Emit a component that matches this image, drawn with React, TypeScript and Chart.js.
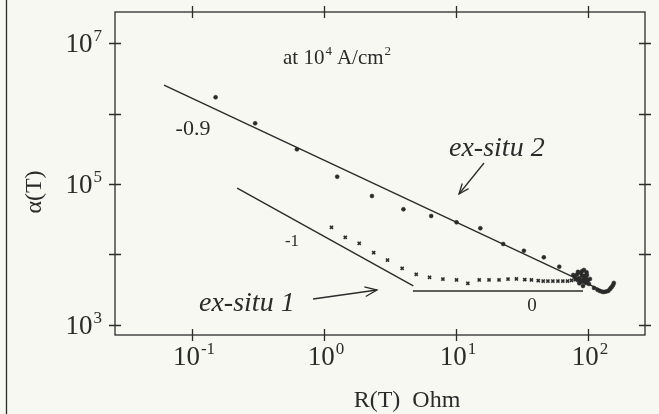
import { useEffect, useRef } from "react";
import { Chart, registerables } from "chart.js";

Chart.register(...registerables);

// Resistance R(T) in Ohm and coefficient α(T) for the two ex-situ samples
const exSitu2R = [
  0.151, 0.301, 0.624, 1.26, 2.31, 4.0, 6.49, 10.1, 15.3, 22.8, 32.7, 46.3, 60.6, 77.3,
  79.5, 81.1, 82.5, 84.0, 85.5, 87.0, 88.5, 90.1, 91.7, 92.5, 93.2, 94.0, 94.9, 95.8, 96.6, 97.5, 98.3, 100.0, 101.7, 103.5,
  88.0, 92.0, 96.0, 90.0, 86.0,
  111, 118, 123, 128, 132, 137, 142, 146, 149, 152, 155, 157,
];
const exSitu2Alpha = [
  1.7e6, 7.26e5, 3.1e5, 1.27e5, 6.76e4, 4.38e4, 3.52e4, 2.86e4, 2.36e4, 1.41e4, 1.13e4, 9.12e3, 6.71e3, 5.12e3,
  4.8e3, 4.5e3, 5.2e3, 5.67e3, 4.6e3, 4.08e3, 5.4e3, 4.97e3, 3.58e3, 4.4e3, 6.04e3, 5.0e3, 4.36e3, 4.7e3, 3.95e3, 5.6e3, 5.13e3, 4.3e3, 3.82e3, 4.5e3,
  4.3e3, 4.1e3, 4.6e3, 5.8e3, 3.9e3,
  3.36e3, 3.15e3, 3.04e3, 2.96e3, 2.94e3, 2.98e3, 3.04e3, 3.2e3, 3.36e3, 3.5e3, 3.7e3, 3.95e3,
];

const exSitu1R = [
  1.14, 1.45, 1.85, 2.38, 3.03, 3.91, 5.0, 6.31, 7.96, 10.1, 12.3, 15.0, 17.8, 21.2,
  24.8, 28.7, 33.2, 37.3, 42.0, 45.8, 49.7, 54.2, 59.2, 64.5, 70.0, 75.0, 80.0, 84.0,
];
const exSitu1Alpha = [
  2.43e4, 1.75e4, 1.44e4, 1.06e4, 8.35e3, 6.37e3, 5.24e3, 4.75e3, 4.49e3, 4.35e3, 3.9e3, 4.35e3, 4.35e3, 4.35e3,
  4.49e3, 4.5e3, 4.4e3, 4.35e3, 4.25e3, 4.2e3, 4.2e3, 4.2e3, 4.2e3, 4.2e3, 4.2e3, 4.3e3, 4.4e3, 4.3e3,
];

// Power-law guides: slopes -0.9, -1 and 0
const slope09R = [0.0614, 139.4];
const slope09Alpha = [2.53e6, 2.85e3];
const slope1R = [0.22, 4.75];
const slope1Alpha = [8.75e4, 3.58e3];
const slope0R = [4.72, 91.7];
const slope0Alpha = [3.04e3, 3.04e3];

// Axis decades
const xTickExponents = [-1, 0, 1, 2];
const yTickExponents = [3, 4, 5, 6, 7];
const yLabelExponents = [3, 5, 7];

const SERIF = '"Liberation Serif", "DejaVu Serif", serif';
const INK = "#2b2b2b";
const PAPER = "#f8f8f3";

const toPoints = (xs: number[], ys: number[]) => xs.map((x, i) => ({ x, y: ys[i] }));

function drawPower(
  ctx: CanvasRenderingContext2D,
  base: string,
  exp: string,
  x: number,
  y: number,
  align: "left" | "center" | "right",
  size: number,
  supSize: number
) {
  ctx.font = `${size}px ${SERIF}`;
  const wb = ctx.measureText(base).width;
  ctx.font = `${supSize}px ${SERIF}`;
  const we = ctx.measureText(exp).width;
  const total = wb + 1 + we;
  const left = align === "center" ? x - total / 2 : align === "right" ? x - total : x;
  ctx.textAlign = "left";
  ctx.textBaseline = "alphabetic";
  ctx.font = `${size}px ${SERIF}`;
  ctx.fillText(base, left, y);
  ctx.font = `${supSize}px ${SERIF}`;
  ctx.fillText(exp, left + wb + 1, y - size * 0.42);
  return left + total;
}

function arrow(ctx: CanvasRenderingContext2D, x0: number, y0: number, x1: number, y1: number, head: number) {
  const a = Math.atan2(y1 - y0, x1 - x0);
  ctx.beginPath();
  ctx.moveTo(x0, y0);
  ctx.lineTo(x1, y1);
  ctx.stroke();
  ctx.beginPath();
  ctx.moveTo(x1 - head * Math.cos(a - 0.38), y1 - head * Math.sin(a - 0.38));
  ctx.lineTo(x1, y1);
  ctx.lineTo(x1 - head * Math.cos(a + 0.38), y1 - head * Math.sin(a + 0.38));
  ctx.stroke();
}

const framePlugin = {
  id: "frame",
  beforeDraw(chart: any) {
    const { ctx, width, height } = chart;
    ctx.save();
    ctx.fillStyle = PAPER;
    ctx.fillRect(0, 0, width, height);
    ctx.restore();
  },
  afterDraw(chart: any) {
    const { ctx, chartArea, scales } = chart;
    const { left, right, top, bottom } = chartArea;
    const xs = scales.x;
    const ys = scales.y;
    ctx.save();
    ctx.strokeStyle = INK;
    ctx.fillStyle = INK;
    ctx.lineWidth = 1.3;

    // outer rule at the left margin
    ctx.beginPath();
    ctx.moveTo(6.5, 0);
    ctx.lineTo(6.5, chart.height);
    ctx.stroke();

    // plot box
    ctx.strokeRect(left, top, right - left, bottom - top);

    // crossing tick marks on all four sides
    const t = 6;
    ctx.beginPath();
    xTickExponents.forEach((e) => {
      const px = Math.round(xs.getPixelForValue(Math.pow(10, e))) + 0.5;
      ctx.moveTo(px, bottom - t);
      ctx.lineTo(px, bottom + t);
      ctx.moveTo(px, top - t);
      ctx.lineTo(px, top + t);
    });
    yTickExponents.forEach((e) => {
      const py = Math.round(ys.getPixelForValue(Math.pow(10, e))) + 0.5;
      ctx.moveTo(left - t, py);
      ctx.lineTo(left + t, py);
      ctx.moveTo(right - t, py);
      ctx.lineTo(right + t, py);
    });
    ctx.stroke();

    // tick labels
    xTickExponents.forEach((e) => {
      const px = xs.getPixelForValue(Math.pow(10, e));
      drawPower(ctx, "10", String(e), px + 2, bottom + 30, "center", 27, 17);
    });
    yLabelExponents.forEach((e) => {
      const py = ys.getPixelForValue(Math.pow(10, e));
      drawPower(ctx, "10", String(e), left - 13, py + 9, "right", 27, 17);
    });

    // axis titles
    ctx.font = `24px ${SERIF}`;
    ctx.textAlign = "center";
    ctx.textBaseline = "alphabetic";
    ctx.fillText("R(T)  Ohm", 407, 407);
    ctx.save();
    ctx.translate(41, 192);
    ctx.rotate(-Math.PI / 2);
    ctx.fillText("α(T)", 0, 0);
    ctx.restore();

    // current density note
    const endAt = drawPower(ctx, "at 10", "4", 283, 64, "left", 21, 13);
    drawPower(ctx, "A/cm", "2", endAt + 5, 64, "left", 21, 13);

    // slope labels
    ctx.textAlign = "center";
    ctx.font = `22px ${SERIF}`;
    ctx.fillText("-0.9", 193, 135);
    ctx.font = `17px ${SERIF}`;
    ctx.fillText("-1", 292, 246);
    ctx.font = `19px ${SERIF}`;
    ctx.fillText("0", 532, 311);

    // sample labels and arrows
    ctx.font = `italic 28px ${SERIF}`;
    ctx.textAlign = "left";
    ctx.fillText("ex-situ 2", 449, 156);
    ctx.fillText("ex-situ 1", 199, 311);
    ctx.lineWidth = 1.3;
    arrow(ctx, 484, 163, 459, 194, 11);
    arrow(ctx, 313, 299, 377, 290, 13);

    ctx.restore();
  },
};

export default function App() {
  const canvasRef = useRef<HTMLCanvasElement | null>(null);

  useEffect(() => {
    const canvas = canvasRef.current;
    if (!canvas) return;
    const guide = { showLine: true, pointRadius: 0, borderColor: INK, borderWidth: 1.4, fill: false };
    const chart = new Chart(canvas, {
      type: "scatter",
      data: {
        datasets: [
          { label: "slope -0.9", data: toPoints(slope09R, slope09Alpha), ...guide },
          { label: "slope -1", data: toPoints(slope1R, slope1Alpha), ...guide },
          { label: "slope 0", data: toPoints(slope0R, slope0Alpha), ...guide },
          {
            label: "ex-situ 2",
            data: toPoints(exSitu2R, exSitu2Alpha),
            pointStyle: "circle",
            pointRadius: 2,
            backgroundColor: INK,
            borderColor: INK,
            borderWidth: 0.5,
          },
          {
            label: "ex-situ 1",
            data: toPoints(exSitu1R, exSitu1Alpha),
            pointStyle: "crossRot",
            pointRadius: 2.2,
            borderColor: INK,
            borderWidth: 1.6,
          },
        ],
      },
      options: {
        responsive: false,
        animation: false,
        devicePixelRatio: 1,
        layout: { padding: { left: 115, top: 12, right: 14, bottom: 79 } },
        plugins: { legend: { display: false }, tooltip: { enabled: false } },
        scales: {
          x: { type: "logarithmic", display: false, min: Math.pow(10, -1.583), max: Math.pow(10, 2.432) },
          y: { type: "logarithmic", display: false, min: Math.pow(10, 2.858), max: Math.pow(10, 7.44) },
        },
      },
      plugins: [framePlugin],
    });
    return () => chart.destroy();
  }, []);

  return (
    <div style={{ position: "fixed", left: 0, top: 0, width: 659, height: 414, background: PAPER }}>
      <canvas ref={canvasRef} width={659} height={414} />
    </div>
  );
}
